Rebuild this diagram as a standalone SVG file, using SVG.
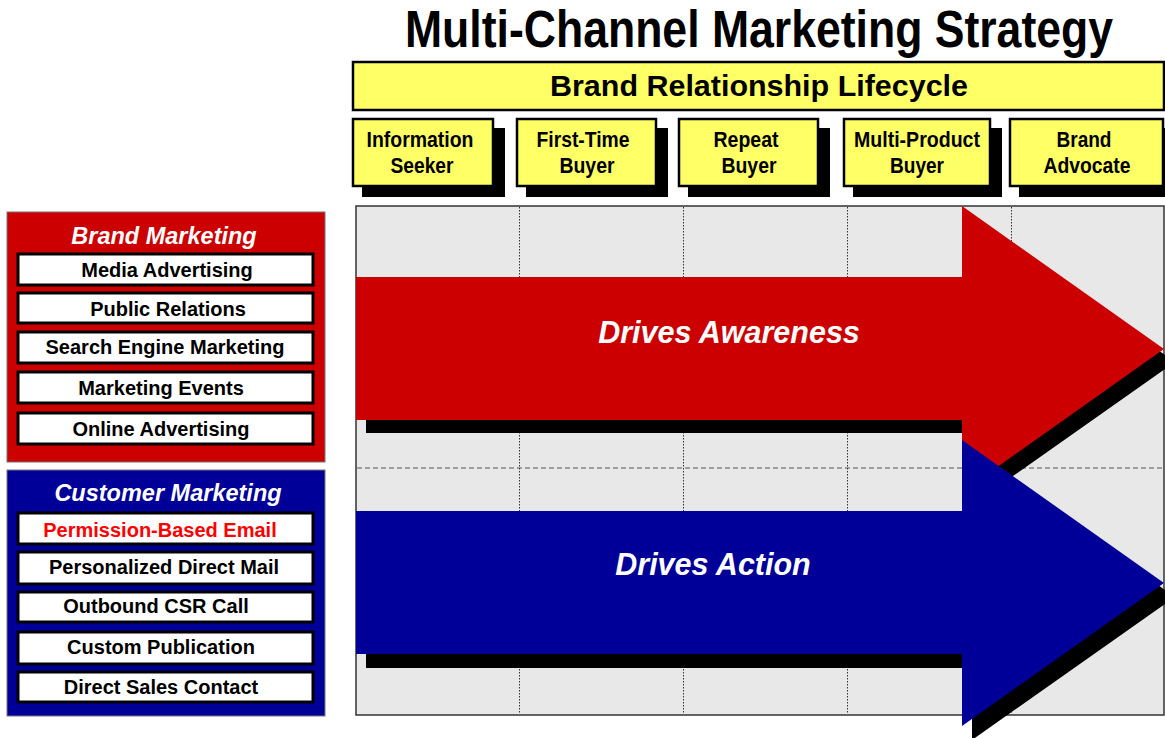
<svg xmlns="http://www.w3.org/2000/svg" width="1165" height="738" viewBox="0 0 1165 738">
  <style>
    .title { font-family: "Liberation Sans", Arial, sans-serif; font-weight: bold; font-size: 51px; fill: #000; }
    .hdr { font-family: "Liberation Sans", Arial, sans-serif; font-weight: bold; font-size: 29.5px; fill: #000; }
    .stage { fill: #ffff66; stroke: #000; stroke-width: 2.5; }
    .shadow { fill: #000; }
    .stxt { font-family: "Liberation Sans Narrow", "Liberation Sans", Arial, sans-serif; font-weight: bold; font-size: 22px; fill: #000; text-anchor: middle; }
    .panel-title { font-family: "Liberation Sans", Arial, sans-serif; font-weight: bold; font-style: italic; font-size: 23.5px; fill: #fff; text-anchor: middle; }
    .item { fill: #fff; stroke: #000; stroke-width: 3; }
    .itxt { font-family: "Liberation Sans", Arial, sans-serif; font-weight: bold; font-size: 20px; fill: #000; text-anchor: middle; }
    .grid { stroke: #333; stroke-width: 1; stroke-dasharray: 1.5 1.5; }
    .arrow-label { font-family: "Liberation Sans", Arial, sans-serif; font-weight: bold; font-style: italic; font-size: 30.5px; fill: #fff; text-anchor: middle; }
  </style>

  <!-- heading, horizontally condensed -->
  <text class="title" transform="translate(405,47) scale(0.874,1)" x="0" y="0">Multi-Channel Marketing Strategy</text>

  <g id="lifecycle-bar">
    <rect x="353" y="62" width="811" height="48" fill="#ffff66" stroke="#000" stroke-width="2.5"/>
    <text class="hdr" x="550" y="96" textLength="418" lengthAdjust="spacingAndGlyphs">Brand Relationship Lifecycle</text>
  </g>

  <!-- lifecycle stages -->
  <g id="stage-information-seeker">
    <rect class="shadow" x="362" y="128" width="143" height="69"/>
    <rect class="stage" x="353" y="119" width="140" height="67"/>
    <text class="stxt" x="420" y="147" textLength="107" lengthAdjust="spacingAndGlyphs">Information</text>
    <text class="stxt" x="422" y="173" textLength="63" lengthAdjust="spacingAndGlyphs">Seeker</text>
  </g>
  <g id="stage-first-time-buyer">
    <rect class="shadow" x="526" y="128" width="142" height="69"/>
    <rect class="stage" x="517" y="119" width="139" height="67"/>
    <text class="stxt" x="583" y="147" textLength="93" lengthAdjust="spacingAndGlyphs">First-Time</text>
    <text class="stxt" x="587" y="173" textLength="55" lengthAdjust="spacingAndGlyphs">Buyer</text>
  </g>
  <g id="stage-repeat-buyer">
    <rect class="shadow" x="688" y="128" width="142" height="69"/>
    <rect class="stage" x="679" y="119" width="139" height="67"/>
    <text class="stxt" x="746" y="147" textLength="65" lengthAdjust="spacingAndGlyphs">Repeat</text>
    <text class="stxt" x="749" y="173" textLength="55" lengthAdjust="spacingAndGlyphs">Buyer</text>
  </g>
  <g id="stage-multi-product-buyer">
    <rect class="shadow" x="853" y="128" width="149" height="69"/>
    <rect class="stage" x="844" y="119" width="146" height="67"/>
    <text class="stxt" x="917" y="147" textLength="126" lengthAdjust="spacingAndGlyphs">Multi-Product</text>
    <text class="stxt" x="917" y="173" textLength="54" lengthAdjust="spacingAndGlyphs">Buyer</text>
  </g>
  <g id="stage-brand-advocate">
    <rect class="shadow" x="1019" y="128" width="146" height="69"/>
    <rect class="stage" x="1010" y="119" width="153" height="67"/>
    <text class="stxt" x="1084" y="147" textLength="55" lengthAdjust="spacingAndGlyphs">Brand</text>
    <text class="stxt" x="1087" y="173" textLength="87" lengthAdjust="spacingAndGlyphs">Advocate</text>
  </g>

  <!-- left: brand marketing channels -->
  <g id="brand-marketing">
    <rect x="7" y="212" width="318" height="250" fill="#cc0000" stroke="#777" stroke-width="1"/>
    <text class="panel-title" x="164" y="244">Brand Marketing</text>
    <rect class="item" x="18" y="254" width="295" height="31"/>
    <text class="itxt" x="167" y="277">Media Advertising</text>
    <rect class="item" x="18" y="293" width="295" height="30"/>
    <text class="itxt" x="168" y="316">Public Relations</text>
    <rect class="item" x="18" y="332" width="295" height="31"/>
    <text class="itxt" x="165" y="354">Search Engine Marketing</text>
    <rect class="item" x="18" y="372" width="295" height="31"/>
    <text class="itxt" x="161" y="395">Marketing Events</text>
    <rect class="item" x="18" y="413" width="295" height="31"/>
    <text class="itxt" x="161" y="436">Online Advertising</text>
  </g>

  <!-- left: customer marketing channels -->
  <g id="customer-marketing">
    <rect x="7" y="470" width="318" height="246" fill="#000099" stroke="#777" stroke-width="1"/>
    <text class="panel-title" x="168" y="501">Customer Marketing</text>
    <rect class="item" x="18" y="513" width="295" height="31"/>
    <text class="itxt" x="160" y="537" style="fill:#ff0000">Permission-Based Email</text>
    <rect class="item" x="18" y="552" width="295" height="32"/>
    <text class="itxt" x="164" y="574">Personalized Direct Mail</text>
    <rect class="item" x="18" y="592" width="295" height="30"/>
    <text class="itxt" x="156" y="613">Outbound CSR Call</text>
    <rect class="item" x="18" y="632" width="295" height="32"/>
    <text class="itxt" x="161" y="654">Custom Publication</text>
    <rect class="item" x="18" y="672" width="295" height="30"/>
    <text class="itxt" x="161" y="694">Direct Sales Contact</text>
  </g>

  <!-- lifecycle grid -->
  <g id="grid">
    <rect x="356" y="206" width="808" height="509" fill="#e8e8e8" stroke="#333" stroke-width="1.5"/>
    <line class="grid" x1="519.5" y1="207" x2="519.5" y2="714"/>
    <line class="grid" x1="683.5" y1="207" x2="683.5" y2="714"/>
    <line class="grid" x1="847.5" y1="207" x2="847.5" y2="714"/>
    <line class="grid" x1="1011.5" y1="207" x2="1011.5" y2="714"/>
    <line x1="357" y1="468" x2="1163" y2="468" stroke="#555" stroke-width="1.2" stroke-dasharray="5 3"/>
  </g>

  <!-- block arrows -->
  <g id="connectors">
    <g id="arrow-awareness">
      <polygon class="shadow" points="366,290 972,290 972,219 1175,362 972,505 972,433 366,433"/>
      <polygon fill="#cc0000" points="356,277 962,277 962,206 1164,349 962,492 962,420 356,420"/>
      <text class="arrow-label" x="729" y="343">Drives Awareness</text>
    </g>
    <g id="arrow-action">
      <polygon class="shadow" points="366,525 972,525 972,454 1175,597 972,740 972,668 366,668"/>
      <polygon fill="#000099" points="356,511 962,511 962,440 1164,583 962,726 962,654 356,654"/>
      <text class="arrow-label" x="713" y="575">Drives Action</text>
    </g>
  </g>
</svg>
